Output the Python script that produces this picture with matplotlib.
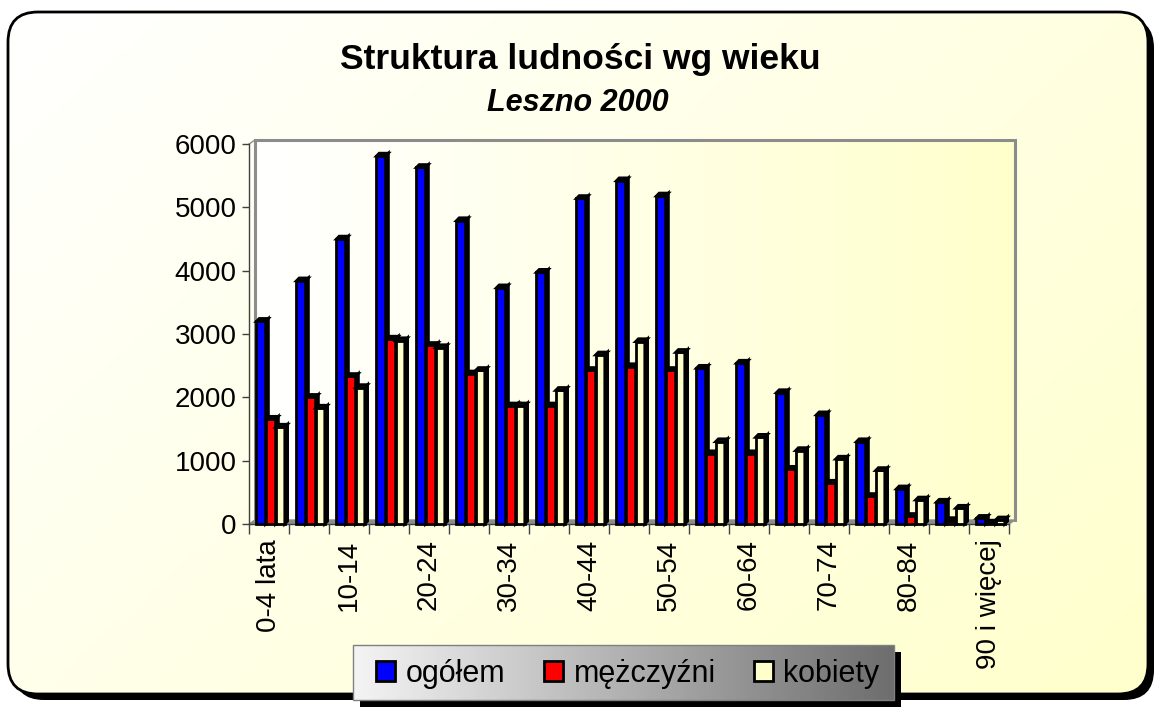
import matplotlib
matplotlib.use("Agg")
import matplotlib.pyplot as plt
import matplotlib.colors as mcolors
from matplotlib.patches import FancyBboxPatch, Rectangle, Polygon
import numpy as np

plt.rcParams["font.family"] = ["Liberation Sans", "DejaVu Sans"]

# Dane: struktura ludności wg wieku, Leszno 2000
kategorie = ["0-4 lata", "5-9", "10-14", "15-19", "20-24", "25-29", "30-34",
             "35-39", "40-44", "45-49", "50-54", "55-59", "60-64", "65-69",
             "70-74", "75-79", "80-84", "85-89", "90 i więcej"]
ogolem = [3200, 3840, 4500, 5810, 5630, 4790, 3730, 3975, 5140, 5420,
          5180, 2460, 2540, 2075, 1725, 1300, 555, 345, 90]
mezczyzni = [1655, 2000, 2330, 2920, 2820, 2370, 1865, 1865, 2425, 2485,
             2425, 1110, 1110, 865, 645, 435, 120, 55, 15]
kobiety = [1530, 1830, 2155, 2895, 2785, 2425, 1865, 2110, 2670, 2880,
           2710, 1300, 1370, 1160, 1025, 845, 380, 250, 65]
serie = ["ogółem", "mężczyźni", "kobiety"]
kolory = ["#0000FF", "#FF0000", "#FFFFCC"]

W, H = 1158, 707
fig = plt.figure(figsize=(W / 100, H / 100), dpi=100)
fig.patch.set_facecolor("white")

# --- tło: zaokrąglona ramka z gradientem ---
bg = fig.add_axes([0, 0, 1, 1], zorder=0)
bg.set_xlim(0, W)
bg.set_ylim(H, 0)
bg.axis("off")

shadow = FancyBboxPatch((14, 18), 1140, 682, boxstyle="round,pad=0,rounding_size=30",
                        fc="black", ec="black", lw=0)
bg.add_patch(shadow)
frame = FancyBboxPatch((8, 12), 1140, 682, boxstyle="round,pad=0,rounding_size=30",
                       fc="none", ec="black", lw=2)
bg.add_patch(frame)
gx, gy = np.meshgrid(np.linspace(0, 1, 300), np.linspace(0, 1, 200))
grad = (gx * 0.6 + gy * 0.4)
cmap_bg = mcolors.LinearSegmentedColormap.from_list("bg", ["#FFFFFF", "#FFFFCC"])
im = bg.imshow(grad, cmap=cmap_bg, extent=[8, 1148, 694, 12], aspect="auto", zorder=1)
im.set_clip_path(frame)
frame.set_zorder(2)

# legenda: tło z gradientem i cieniem
bg.add_patch(Rectangle((360, 652), 541, 55, fc="black", lw=0, zorder=3))
lg = Rectangle((353, 645), 541, 55, fc="none", ec="#808080", lw=1, zorder=5)
bg.add_patch(lg)
cmap_lg = mcolors.LinearSegmentedColormap.from_list("lg", ["#F4F4F4", "#6E6E6E"])
img = bg.imshow(np.tile(np.linspace(0, 1, 300), (20, 1)), cmap=cmap_lg,
                extent=[353, 894, 700, 645], aspect="auto", zorder=4)
img.set_clip_path(lg)

# --- wykres ---
ax = fig.add_axes([249 / W, 1 - 524 / H, 760 / W, 380 / H], zorder=2)
ax.patch.set_alpha(0)

x = np.arange(len(kategorie))
dxw, dyw = 0.15, 63          # przesunięcie ściany 3D
dx, dy = 0.07, 45            # głębokość słupków
szer = 0.23
przes = [-0.2, 0.05, 0.28]

# ściana tylna z gradientem
cmap_wall = mcolors.LinearSegmentedColormap.from_list("wall", ["#FFFFFF", "#FFFFCC"])
ax.imshow(np.tile(np.linspace(0, 1, 200), (10, 1)), cmap=cmap_wall,
          extent=[-0.5 + dxw, 18.5 + dxw, dyw, 6000 + dyw], aspect="auto", zorder=0,
          clip_on=False)
ax.plot([-0.5 + dxw, -0.5 + dxw, 18.5 + dxw, 18.5 + dxw],
        [dyw, 6000 + dyw, 6000 + dyw, dyw], color="#8C8C8C", lw=2.2,
        clip_on=False, zorder=1, solid_joinstyle="miter")
ax.plot([-0.5, -0.5 + dxw], [6000, 6000 + dyw], color="#8C8C8C", lw=1, clip_on=False, zorder=1)
ax.add_patch(Polygon([(-0.5, 0), (-0.5 + dxw, dyw), (18.5 + dxw, dyw), (18.5, 0)],
                     fc="#8C8C8C", ec="#8C8C8C", lw=1, clip_on=False, zorder=1))


def ciemniej(c, f):
    r, g, b = mcolors.to_rgb(c)
    return (r * f, g * f, b * f)


uchwyty = []
for i, (wart, kol) in enumerate(zip([ogolem, mezczyzni, kobiety], kolory)):
    z = 3 + i
    bars = ax.bar(x + przes[i], wart, width=szer, color=kol, edgecolor="black",
                  linewidth=2, zorder=z, clip_on=False)
    uchwyty.append(bars)
    for r in bars:
        x0, w, h = r.get_x(), r.get_width(), r.get_height()
        ax.add_patch(Polygon([(x0 + w, 0), (x0 + w + dx, dy), (x0 + w + dx, h + dy), (x0 + w, h)],
                             fc=ciemniej(kol, 0.55), ec="black", lw=2, zorder=z, clip_on=False))
        ax.add_patch(Polygon([(x0, h), (x0 + dx, h + dy), (x0 + w + dx, h + dy), (x0 + w, h)],
                             fc=ciemniej(kol, 0.7), ec="black", lw=2, zorder=z, clip_on=False))

ax.set_xlim(-0.5, 18.5)
ax.set_ylim(0, 6000)
ax.set_yticks(np.arange(0, 6001, 1000))
ax.set_xticks(x[::2])
ax.set_xticklabels(kategorie[::2], rotation=90, va="top", ha="center")
ax.set_xticks(np.arange(-0.5, 19, 1), minor=True)
ax.tick_params(axis="x", which="major", length=0, pad=11, labelsize=20)
ax.tick_params(axis="x", which="minor", length=7, width=1, color="#404040")
ax.tick_params(axis="y", length=5, width=1, color="#404040", pad=4, labelsize=20)
for s in ["top", "right"]:
    ax.spines[s].set_visible(False)
for s in ["left", "bottom"]:
    ax.spines[s].set_color("#404040")
    ax.spines[s].set_linewidth(1)

# tytuł
fig.text(580 / W, 1 - 60 / H, "Struktura ludności wg wieku", ha="center", va="center",
         fontsize=25.5, fontweight="bold")
fig.text(578 / W, 1 - 103 / H, "Leszno 2000", ha="center", va="center",
         fontsize=22, fontweight="bold", style="italic")

leg = fig.legend(uchwyty, serie, loc="center", ncol=3,
                 bbox_to_anchor=(628 / W, 1 - 674 / H), frameon=False, fontsize=22,
                 handlelength=0.62, handleheight=0.62, handletextpad=0.35,
                 columnspacing=1.25, borderpad=0)
leg.set_zorder(10)

fig.savefig("out.png", dpi=100)
